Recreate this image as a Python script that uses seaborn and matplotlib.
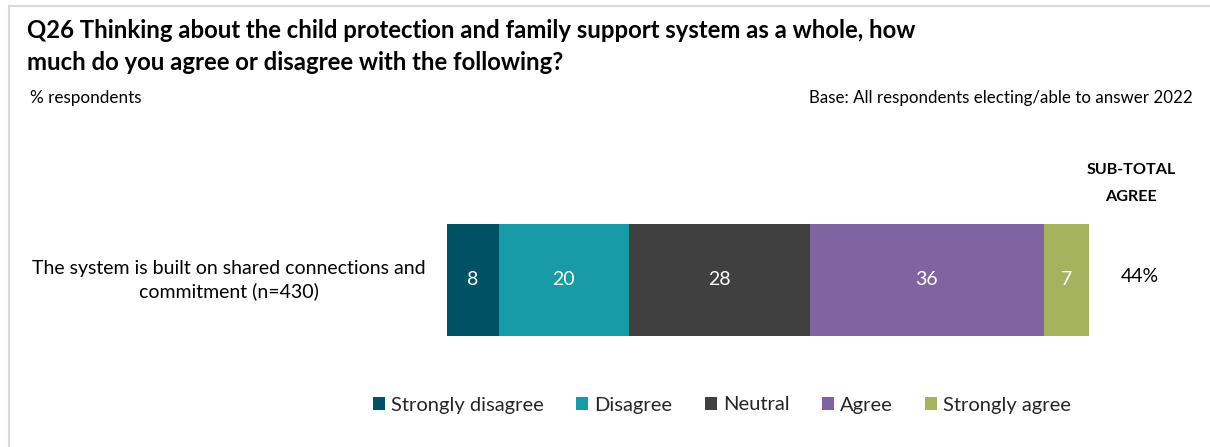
import matplotlib
matplotlib.use("Agg")
import matplotlib.pyplot as plt
import seaborn as sns
import pandas as pd
import numpy as np
from matplotlib.patches import Rectangle, Patch

sns.set_theme(style="white")
plt.rcParams['font.family'] = ['Lato', 'DejaVu Sans']

categories = ["The system is built on shared connections and\ncommitment (n=430)"]
series = ["Strongly disagree", "Disagree", "Neutral", "Agree", "Strongly agree"]
values = [8, 20, 28, 36, 7]
colors = ["#005163", "#189BA6", "#404040", "#8064A2", "#A5B25E"]
subtotal_agree = ["44%"]

W, H = 1210, 447
fig = plt.figure(figsize=(W / 100, H / 100), dpi=100)

# light border (top and left)
fig.add_artist(Rectangle((9 / W, -0.05), 1.1, (H - 5.5) / H + 0.05, transform=fig.transFigure,
                         fill=False, edgecolor="#D9D9D9", linewidth=1.5))

ax = fig.add_axes([447 / W, 1 - 360 / H, 642 / W, 160 / H])

cum = np.cumsum(values)
for i in range(len(values) - 1, -1, -1):
    df = pd.DataFrame({"cat": categories, "val": [cum[i]]})
    sns.barplot(data=df, x="val", y="cat", color=colors[i], width=0.7, ax=ax,
                saturation=1, edgecolor="none", linewidth=0)

starts = np.concatenate([[0], cum[:-1]])
for s, v in zip(starts, values):
    ax.text(s + v / 2, 0, str(v), ha="center", va="center", color="white", fontsize=14)

ax.set_xlim(0, 99)
ax.set_ylim(0.5, -0.5)
ax.axis("off")

# category label
fig.text(229 / W, 1 - 280 / H, categories[0], ha="center", va="center", fontsize=14,
         linespacing=1.35, multialignment="center", color="#000000")

# subtotal
fig.text(1131 / W, 1 - 170 / H, "SUB-TOTAL", ha="center", va="center", fontsize=11.6,
         fontweight="bold", color="#000000")
fig.text(1131 / W, 1 - 197 / H, "AGREE", ha="center", va="center", fontsize=11.6,
         fontweight="bold", color="#000000")
fig.text(1140 / W, 1 - 276 / H, subtotal_agree[0], ha="center", va="center", fontsize=14,
         color="#000000")

# title
fig.text(27 / W, 1 - 31 / H, "Q26 Thinking about the child protection and family support system as a whole, how",
         ha="left", va="center", fontsize=17.2, fontweight="bold", color="#000000")
fig.text(27 / W, 1 - 63 / H, "much do you agree or disagree with the following?",
         ha="left", va="center", fontsize=17.2, fontweight="bold", color="#000000")
fig.text(30 / W, 1 - 98 / H, "% respondents", ha="left", va="center", fontsize=12.3, color="#000000")
fig.text(1193 / W, 1 - 98 / H, "Base: All respondents electing/able to answer 2022", ha="right",
         va="center", fontsize=12.2, color="#000000")

handles = [Patch(facecolor=c, edgecolor="none") for c in colors]
fig.legend(handles, series, loc="center", bbox_to_anchor=(722 / W, 1 - 405 / H), ncol=5,
           frameon=False, fontsize=14.5, handlelength=0.6, handleheight=0.6, handletextpad=0.3,
           columnspacing=1.6)

fig.savefig("out.png", dpi=100)
